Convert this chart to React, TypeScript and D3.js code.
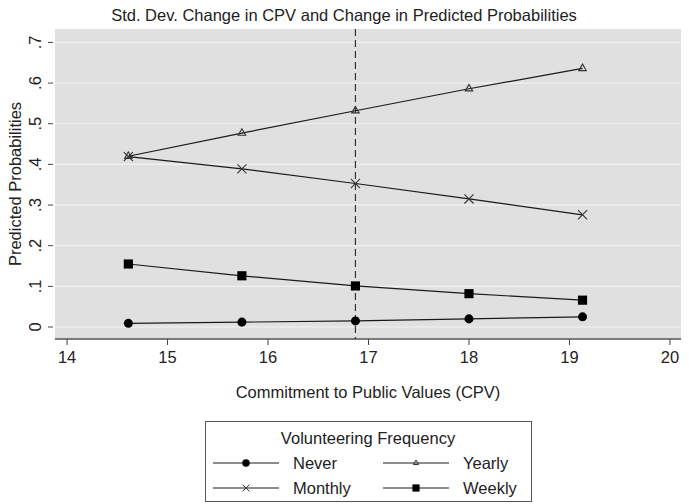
import React, { useEffect, useRef } from 'react'
import * as d3 from 'd3'

// CPV values at -2..+2 std. dev. around the mean
const cpv = [14.61, 15.74, 16.87, 18.0, 19.13]
const meanCpv = 16.87

const never = [0.009, 0.012, 0.015, 0.02, 0.025]
const yearly = [0.42, 0.477, 0.532, 0.586, 0.636]
const monthly = [0.419, 0.389, 0.353, 0.315, 0.276]
const weekly = [0.155, 0.126, 0.101, 0.082, 0.066]

const xTicks = [14, 15, 16, 17, 18, 19, 20]
const yTicks = [0, 0.1, 0.2, 0.3, 0.4, 0.5, 0.6, 0.7]
const yTickLabels = ['0', '.1', '.2', '.3', '.4', '.5', '.6', '.7']

const seriesNames = ['Never', 'Yearly', 'Monthly', 'Weekly']

const FONT = '"Liberation Sans", Arial, Helvetica, sans-serif'
const FS = 16.5

export default function App() {
  const ref = useRef<SVGSVGElement>(null)

  useEffect(() => {
    const svg = d3.select(ref.current)
    svg.selectAll('*').remove()

    const left = 55
    const right = 681
    const top = 29
    const bottom = 339

    const x = d3.scaleLinear().domain([13.88, 20.11]).range([left, right])
    const y = d3.scaleLinear().domain([-0.0295, 0.733]).range([bottom, top])

    const series = [
      { name: 'Never', values: never, shape: d3.symbolCircle, size: 64, fill: '#000', lsize: 44 },
      { name: 'Yearly', values: yearly, shape: d3.symbolTriangle2, size: 40, fill: 'none', lsize: 20 },
      { name: 'Monthly', values: monthly, shape: d3.symbolTimes, size: 56, fill: 'none', lsize: 32 },
      { name: 'Weekly', values: weekly, shape: d3.symbolSquare, size: 84, fill: '#000', lsize: 52 },
    ]

    // plot region
    svg
      .append('rect')
      .attr('x', left)
      .attr('y', top)
      .attr('width', right - left)
      .attr('height', bottom - top)
      .attr('fill', '#e0e0e0')

    // grid
    svg
      .append('g')
      .selectAll('line')
      .data(yTicks)
      .enter()
      .append('line')
      .attr('x1', left)
      .attr('x2', right)
      .attr('y1', (d) => y(d))
      .attr('y2', (d) => y(d))
      .attr('stroke', '#edf3f5')
      .attr('stroke-width', 1.2)

    // y axis ticks + labels
    const yAxis = svg.append('g')
    yAxis
      .selectAll('line')
      .data(yTicks)
      .enter()
      .append('line')
      .attr('x1', 48)
      .attr('x2', 53)
      .attr('y1', (d) => y(d))
      .attr('y2', (d) => y(d))
      .attr('stroke', '#444')
      .attr('stroke-width', 1)
    yAxis
      .selectAll('text')
      .data(yTicks)
      .enter()
      .append('text')
      .attr('transform', (d) => `translate(35, ${y(d)}) rotate(-90)`)
      .attr('text-anchor', 'middle')
      .attr('dominant-baseline', 'central')
      .attr('font-family', FONT)
      .attr('font-size', FS)
      .attr('fill', '#222')
      .text((d, i) => yTickLabels[i])

    // x axis
    const xAxis = svg.append('g')
    xAxis
      .append('line')
      .attr('x1', left)
      .attr('x2', right)
      .attr('y1', bottom)
      .attr('y2', bottom)
      .attr('stroke', '#555')
      .attr('stroke-width', 1.5)
    xAxis
      .selectAll('line.tick')
      .data(xTicks)
      .enter()
      .append('line')
      .attr('class', 'tick')
      .attr('x1', (d) => x(d))
      .attr('x2', (d) => x(d))
      .attr('y1', bottom)
      .attr('y2', bottom + 6)
      .attr('stroke', '#444')
    xAxis
      .selectAll('text')
      .data(xTicks)
      .enter()
      .append('text')
      .attr('x', (d) => x(d))
      .attr('y', 363)
      .attr('text-anchor', 'middle')
      .attr('font-family', FONT)
      .attr('font-size', FS)
      .attr('fill', '#222')
      .text((d) => d)

    // mean reference line
    svg
      .append('line')
      .attr('x1', x(meanCpv))
      .attr('x2', x(meanCpv))
      .attr('y1', top)
      .attr('y2', bottom)
      .attr('stroke', '#333')
      .attr('stroke-width', 1.2)
      .attr('stroke-dasharray', '7,4')

    // series
    const line = d3
      .line<number>()
      .x((d, i) => x(cpv[i]))
      .y((d) => y(d))

    series.forEach((s) => {
      svg
        .append('path')
        .attr('d', line(s.values))
        .attr('fill', 'none')
        .attr('stroke', '#1a1a1a')
        .attr('stroke-width', 1.2)
      svg
        .append('g')
        .selectAll('path')
        .data(s.values)
        .enter()
        .append('path')
        .attr('transform', (d, i) => `translate(${x(cpv[i])}, ${y(d)})`)
        .attr('d', d3.symbol().type(s.shape).size(s.size)())
        .attr('fill', s.fill)
        .attr('stroke', s.fill === 'none' ? '#333' : 'none')
        .attr('stroke-width', 1.1)
    })

    // titles
    svg
      .append('text')
      .attr('x', 344)
      .attr('y', 21)
      .attr('text-anchor', 'middle')
      .attr('font-family', FONT)
      .attr('font-size', FS)
      .attr('fill', '#222')
      .text('Std. Dev. Change in CPV and Change in Predicted Probabilities')

    svg
      .append('text')
      .attr('transform', `translate(15, ${(top + bottom) / 2}) rotate(-90)`)
      .attr('text-anchor', 'middle')
      .attr('dominant-baseline', 'central')
      .attr('font-family', FONT)
      .attr('font-size', FS)
      .attr('fill', '#222')
      .text('Predicted Probabilities')

    svg
      .append('text')
      .attr('x', (left + right) / 2)
      .attr('y', 398)
      .attr('text-anchor', 'middle')
      .attr('font-family', FONT)
      .attr('font-size', FS)
      .attr('fill', '#222')
      .text('Commitment to Public Values (CPV)')

    // legend
    const lg = svg.append('g')
    lg.append('rect')
      .attr('x', 205.5)
      .attr('y', 421.5)
      .attr('width', 326)
      .attr('height', 80)
      .attr('fill', '#fff')
      .attr('stroke', '#555')
      .attr('stroke-width', 1)
    lg.append('text')
      .attr('x', 368)
      .attr('y', 438)
      .attr('text-anchor', 'middle')
      .attr('dominant-baseline', 'central')
      .attr('font-family', FONT)
      .attr('font-size', FS)
      .attr('fill', '#222')
      .text('Volunteering Frequency')

    const colX = [213, 383]
    const rowY = [463, 488]
    seriesNames.forEach((name, i) => {
      const s = series.find((d) => d.name === name)!
      const cx = colX[i % 2]
      const cy = rowY[Math.floor(i / 2)]
      lg.append('line')
        .attr('x1', cx)
        .attr('x2', cx + 66)
        .attr('y1', cy)
        .attr('y2', cy)
        .attr('stroke', '#1a1a1a')
        .attr('stroke-width', 1.2)
      lg.append('path')
        .attr('transform', `translate(${cx + 33}, ${cy})`)
        .attr('d', d3.symbol().type(s.shape).size(s.lsize)())
        .attr('fill', s.fill)
        .attr('stroke', s.fill === 'none' ? '#333' : 'none')
        .attr('stroke-width', 1)
      lg.append('text')
        .attr('x', cx + 80)
        .attr('y', cy)
        .attr('dominant-baseline', 'central')
        .attr('font-family', FONT)
        .attr('font-size', FS)
        .attr('fill', '#222')
        .text(name)
    })
  }, [])

  return (
    <svg
      ref={ref}
      width={689}
      height={504}
      style={{ position: 'absolute', left: 0, top: 0, background: '#fff' }}
    />
  )
}
